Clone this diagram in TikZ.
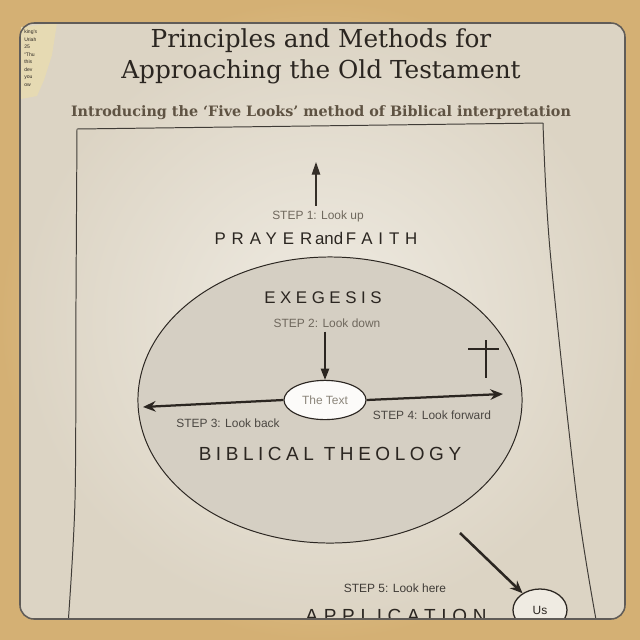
\documentclass[tikz,border=0pt]{standalone}
\usepackage{fontspec}
\setmainfont{DejaVu Serif}
\setsansfont{Liberation Sans}
\usetikzlibrary{arrows.meta,positioning,shapes.geometric}
\definecolor{parchlight}{HTML}{F3E4BC}
\definecolor{parchdark}{HTML}{D4B074}
\definecolor{paper}{HTML}{EFEBE2}
\definecolor{paperdark}{HTML}{DCD4C4}
\definecolor{ink}{HTML}{2B2621}
\definecolor{inkgray}{HTML}{6F685D}
\definecolor{subink}{HTML}{5F5343}
\definecolor{textgray}{HTML}{8B857A}
\definecolor{ovalfill}{HTML}{D5CFC3}
\definecolor{clipping}{HTML}{E6DAB3}
\tikzset{
  titletext/.style={font=\fontsize{17.6}{20}\selectfont, text=ink, inner sep=0pt, anchor=base},
  subtitletext/.style={font=\bfseries\fontsize{10.2}{12}\selectfont, text=subink, inner sep=0pt, anchor=base},
  steplabel/.style={font=\sffamily\fontsize{8.5}{10}\selectfont, text=inkgray, inner sep=0pt, anchor=base},
  spacedcaps/.style={font={\sffamily\fontsize{12}{14}\selectfont\addfontfeature{LetterSpace=#1}},
                     text=ink, inner sep=0pt, anchor=base},
  spacedcaps/.default=30,
  bigoval/.style={ellipse, draw=ink, fill=ovalfill, line width=0.7pt,
                  minimum width=9.6cm, minimum height=7.15cm, inner sep=0pt},
  textoval/.style={ellipse, draw=ink, fill=white!80!paper, line width=0.8pt,
                   minimum width=2.05cm, minimum height=0.98cm, inner sep=0pt,
                   font=\sffamily\fontsize{8.5}{10}\selectfont, text=textgray},
  usoval/.style={ellipse, draw=ink, fill=paper, line width=0.9pt,
                 minimum width=1.35cm, minimum height=1.05cm, inner sep=0pt,
                 font=\sffamily\fontsize{8.5}{10}\selectfont, text=ink},
  lookarrow/.style={-{Stealth[length=9pt,width=7.5pt]}, line width=1.6pt, draw=ink},
  thinarrow/.style={-{Triangle[length=8pt,width=6pt]}, line width=0.9pt, draw=ink},
  uparrow/.style={-{Triangle[length=9pt,width=6pt]}, line width=0.9pt, draw=ink!80!subink},
  frameline/.style={draw=ink!90, line width=0.7pt},
  crossline/.style={draw=ink, line width=1.4pt}
}
\begin{document}
\begin{tikzpicture}[x=0.025cm, y=-0.025cm]
\useasboundingbox (0,0) rectangle (640,640);
% background and page
\shade[inner color=parchlight, outer color=parchdark] (0,0) rectangle (640,640);
\shade[inner color=paper, outer color=paperdark, rounded corners=0.35cm]
  (20,23) rectangle (625,619);
% torn clipping in the corner
\fill[clipping] (21,27) -- (57,23) -- (52,55) -- (44,80) -- (37,96) -- (21,99) -- cycle;
\foreach \word [count=\i] in {king's, Uriah, 25, ``Thu, this, dev, you, ow}
  \node[font=\sffamily\fontsize{3.6}{4}\selectfont, text=ink, inner sep=0pt, anchor=base west]
    at (24,26+7.5*\i) {\word};
\begin{scope}
\clip[rounded corners=0.35cm] (20,23) rectangle (625,619);
% inner frame
\draw[frameline] (77,129) -- (543,123);
\draw[frameline] plot[smooth] coordinates {(77,129) (76,300) (75,500) (68,625)};
\draw[frameline] plot[smooth] coordinates {(543,123) (550,250) (577,500) (597,625)};
% the big oval
\node[bigoval] (oval) at (330,400) {};
% titles
\node[titletext] (title1) at (321,47) {Principles and Methods for};
\node[titletext] (title2) at (321,78) {Approaching the Old Testament};
\node[subtitletext] (subtitle) at (321,116) {Introducing the ‘Five Looks’ method of Biblical interpretation};
% step 1
\coordinate (uptip) at (316,162);
\node[steplabel] (step1) at (318,219) {STEP 1: Look up};
\node[spacedcaps=35] (prayer) at (316,244)
  {PRAYER\hspace{2pt}{\addfontfeature{LetterSpace=0}and}\hspace{2pt}FAITH};
\draw[uparrow] ([yshift=3pt]step1.north -| uptip) -- (uptip);
% step 2
\node[spacedcaps=27] (exegesis) at (323,303) {EXEGESIS};
\node[steplabel] (step2) at (327,327) {STEP 2: Look down};
\node[textoval] (thetext) at (325,400) {The Text};
\draw[thinarrow] ([yshift=-3pt]step2.south -| thetext.north) -- (thetext.north);
% steps 3 and 4
\coordinate (backtip) at (143,407);
\coordinate (fwdtip) at (503,394);
\draw[lookarrow] (thetext.west) -- (backtip);
\draw[lookarrow] (thetext.east) -- (fwdtip);
\node[steplabel, text=ink!85] (step3) at (228,427) {STEP 3: Look back};
\node[steplabel, text=ink!85] (step4) at (432,419) {STEP 4: Look forward};
\node[spacedcaps=24, font={\sffamily\fontsize{13.5}{16}\selectfont\addfontfeature{LetterSpace=24}}]
  (biblical) at (330,460) {BIBLICAL THEOLOGY};
% the cross
\draw[crossline] (486,340) -- (486,378);
\draw[crossline] (468,349) -- (499,349);
% step 5
\node[usoval] (us) at (540,610) {Us};
\coordinate (usfoot) at (460,533);
\draw[lookarrow, line width=1.8pt] (usfoot) -- (us);
\node[steplabel, text=ink!90] (step5) at (395,592) {STEP 5: Look here};
\node[spacedcaps=30, font={\sffamily\fontsize{13.5}{16}\selectfont\addfontfeature{LetterSpace=30}}]
  (application) at (396,622) {APPLICATION};
\end{scope}
\draw[draw=ink!75, line width=1.1pt, rounded corners=0.35cm] (20,23) rectangle (625,619);
\end{tikzpicture}
\end{document}
